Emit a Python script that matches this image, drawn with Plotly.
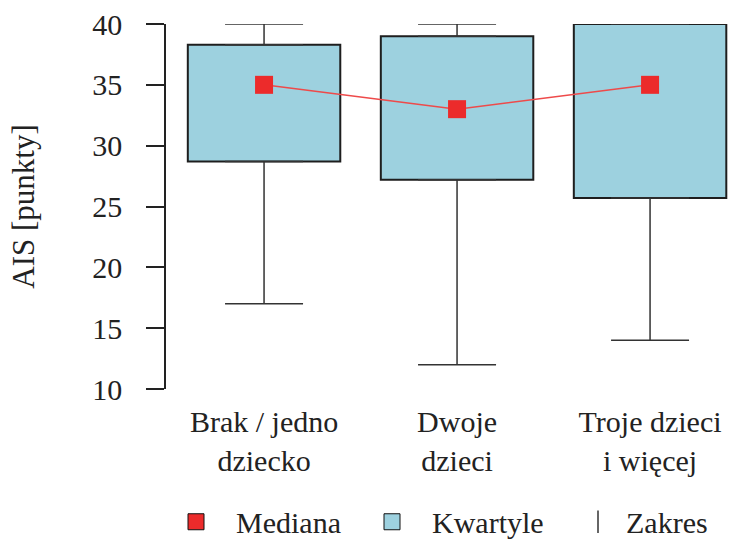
import plotly.graph_objects as go

categories = ["Brak / jedno<br>dziecko", "Dwoje<br>dzieci", "Troje dzieci<br>i więcej"]
minimum = [17, 12, 14]
q1 = [28.7, 27.2, 25.7]
median = [35, 33, 35]
q3 = [38.3, 39.0, 40.0]
maximum = [40, 40, 40]
y_ticks = [10, 15, 20, 25, 30, 35, 40]
legend_names = ["Mediana", "Kwartyle", "Zakres"]

FONT = "Liberation Serif, Times New Roman, serif"
FS = 30
box_fill = "#9DD1DF"
edge = "#1e1e1e"
whisker = "#333333"
red = "#EC2B2B"
red_line = "#EE4A4A"

fig = go.Figure()

# boxes (quartiles)
fig.add_trace(go.Bar(
    x=categories, y=[b - a for a, b in zip(q1, q3)], base=q1, width=0.79,
    marker=dict(color=box_fill, line=dict(color=edge, width=2)),
    name=legend_names[1], showlegend=False, hoverinfo="skip"))

# upper whiskers
fig.add_trace(go.Scatter(
    x=categories, y=q3, mode="markers", marker=dict(size=1, opacity=0),
    error_y=dict(type="data", symmetric=False,
                 array=[m - b for m, b in zip(maximum, q3)], arrayminus=[0, 0, 0],
                 width=39, thickness=1.5, color=whisker),
    showlegend=False, hoverinfo="skip"))

# lower whiskers
fig.add_trace(go.Scatter(
    x=categories, y=q1, mode="markers", marker=dict(size=1, opacity=0),
    error_y=dict(type="data", symmetric=False,
                 array=[0, 0, 0], arrayminus=[a - m for a, m in zip(q1, minimum)],
                 width=39, thickness=1.5, color=whisker),
    showlegend=False, hoverinfo="skip"))

# medians
fig.add_trace(go.Scatter(
    x=categories, y=median, mode="lines+markers",
    line=dict(color=red_line, width=1.5),
    marker=dict(symbol="square", size=18, color=red),
    showlegend=False))

# legend entries (one legend each, to match spacing)
fig.add_trace(go.Scatter(
    x=[None], y=[None], mode="markers", name=legend_names[0], legend="legend",
    marker=dict(symbol="square", size=17, color=red, line=dict(color="#111", width=1))))
fig.add_trace(go.Scatter(
    x=[None], y=[None], mode="markers", name=legend_names[1], legend="legend2",
    marker=dict(symbol="square", size=17, color=box_fill, line=dict(color="#111", width=1))))
fig.add_trace(go.Scatter(
    x=[None], y=[None], mode="markers", name=legend_names[2], legend="legend3",
    marker=dict(symbol="line-ns-open", size=17, color=whisker,
                line=dict(color=whisker, width=1.5))))

leg_common = dict(orientation="h", xref="container", yref="container",
                  y=0.032, xanchor="left", yanchor="middle",
                  font=dict(family=FONT, size=FS, color="#222"),
                  bgcolor="rgba(0,0,0,0)")

fig.update_layout(
    width=729, height=539,
    margin=dict(l=166, r=0, t=24, b=150),
    paper_bgcolor="white", plot_bgcolor="white",
    font=dict(family=FONT, size=FS, color="#222"),
    barmode="overlay",
    legend=dict(x=156 / 729, itemwidth=70, **leg_common),
    legend2=dict(x=352 / 729, itemwidth=70, **leg_common),
    legend3=dict(x=570 / 729, itemwidth=46, **leg_common),
    xaxis=dict(range=[-0.508, 2.409], showline=False, ticks="", showgrid=False,
               zeroline=False, automargin=False, ticklabelstandoff=12),
    yaxis=dict(range=[10, 40], tickvals=y_ticks, showline=True, linecolor="#222",
               linewidth=1.5, ticks="outside", ticklen=18, tickwidth=1.5,
               tickcolor="#222", showgrid=False, zeroline=False, automargin=False,
               ticklabelstandoff=18,
               title=dict(text="AIS [punkty]", standoff=48, font=dict(size=31))),
)

fig.write_html("out.html", config={"displayModeBar": False},
               post_script="document.body.style.margin='0px';")
